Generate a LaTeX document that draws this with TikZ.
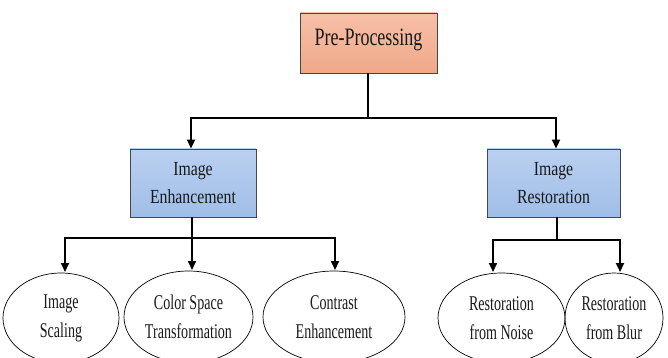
\documentclass[tikz,border=0pt]{standalone}
\usepackage{fontspec}
\setmainfont{Liberation Serif}[FakeStretch=0.76]
\newfontfamily\fontpre{Liberation Serif}[FakeStretch=0.72]
\newfontfamily\fontmid{Liberation Serif}[FakeStretch=0.79]
\newfontfamily\fontleaf{Liberation Serif}[FakeStretch=0.67]
\usetikzlibrary{shapes.geometric,arrows.meta}
\definecolor{salmonTop}{RGB}{247,192,168}
\definecolor{salmonBot}{RGB}{240,168,138}
\definecolor{blueTop}{RGB}{186,208,240}
\definecolor{blueBot}{RGB}{160,190,232}
\definecolor{edgegray}{RGB}{70,70,70}
\definecolor{txt}{RGB}{25,25,25}
\tikzset{
  rootbox/.style={draw=edgegray, line width=0.9pt, top color=salmonTop, bottom color=salmonBot,
    minimum width=137pt, minimum height=60pt, inner sep=0pt, align=center, text=txt,
    text depth=12pt, font=\fontpre\fontsize{25}{29}\selectfont},
  midbox/.style={draw=edgegray, line width=0.9pt, top color=blueTop, bottom color=blueBot,
    minimum height=68pt, inner sep=0pt, align=center, text=txt,
    font=\fontmid\fontsize{20}{28}\selectfont},
  leaf/.style={ellipse, draw=black, line width=0.7pt, inner sep=0pt, align=center, text=txt,
    font=\fontleaf\fontsize{21}{29}\selectfont},
  link/.style={line width=2pt, line cap=rect},
  arr/.style={line width=2pt, -{Triangle[length=9pt,width=8pt]}},
}
\begin{document}
\begin{tikzpicture}[x=1pt,y=-1pt]
\useasboundingbox (0,0) rectangle (668,358);
% nodes
\node[rootbox] (pre) at (368.5,43) {Pre-Processing};
\node[midbox, minimum width=126pt] (enh) at (193,183) {Image\\Enhancement};
\node[midbox, minimum width=133pt] (res) at (553.5,183) {Image\\Restoration};
\node[leaf, minimum width=116pt, minimum height=90pt] (sc) at (61,318) {Image\\Scaling};
\node[leaf, minimum width=129pt, minimum height=92pt] (cs) at (188.5,317) {Color Space\\Transformation};
\node[leaf, minimum width=142pt, minimum height=92pt] (ce) at (334,317) {Contrast\\Enhancement};
\node[leaf, minimum width=127pt, minimum height=90pt] (rn) at (501.5,318) {Restoration\\from Noise};
\node[leaf, minimum width=98pt, minimum height=90pt] (rb) at (614,318) {Restoration\\from Blur};
% coordinates
\coordinate (j0) at (368,118);
\coordinate (j0l) at (191,118);
\coordinate (j0r) at (556,118);
\coordinate (j1) at (192,238);
\coordinate (j1l) at (65,238);
\coordinate (j1r) at (335,238);
\coordinate (j2) at (557,240);
\coordinate (j2l) at (493,240);
\coordinate (j2r) at (620,240);
% connectors
\draw[line width=1.6pt] (pre.south -| j0) -- (j0);
\draw[link] (j0l) -- (j0r);
\draw[arr] (j0l) -- (j0l |- enh.north);
\draw[arr] (j0r) -- (j0r |- res.north);
\draw[line width=1.6pt] (enh.south -| j1) -- (j1);
\draw[link] (j1l) -- (j1r);
\draw[arr] (j1l) -- (65,272);
\draw[arr] (j1) -- (192,270);
\draw[arr] (j1r) -- (335,270);
\draw[line width=1.6pt] (res.south -| j2) -- (j2);
\draw[link] (j2l) -- (j2r);
\draw[arr] (j2l) -- (493,272);
\draw[arr] (j2r) -- (620,272);
\end{tikzpicture}
\end{document}
